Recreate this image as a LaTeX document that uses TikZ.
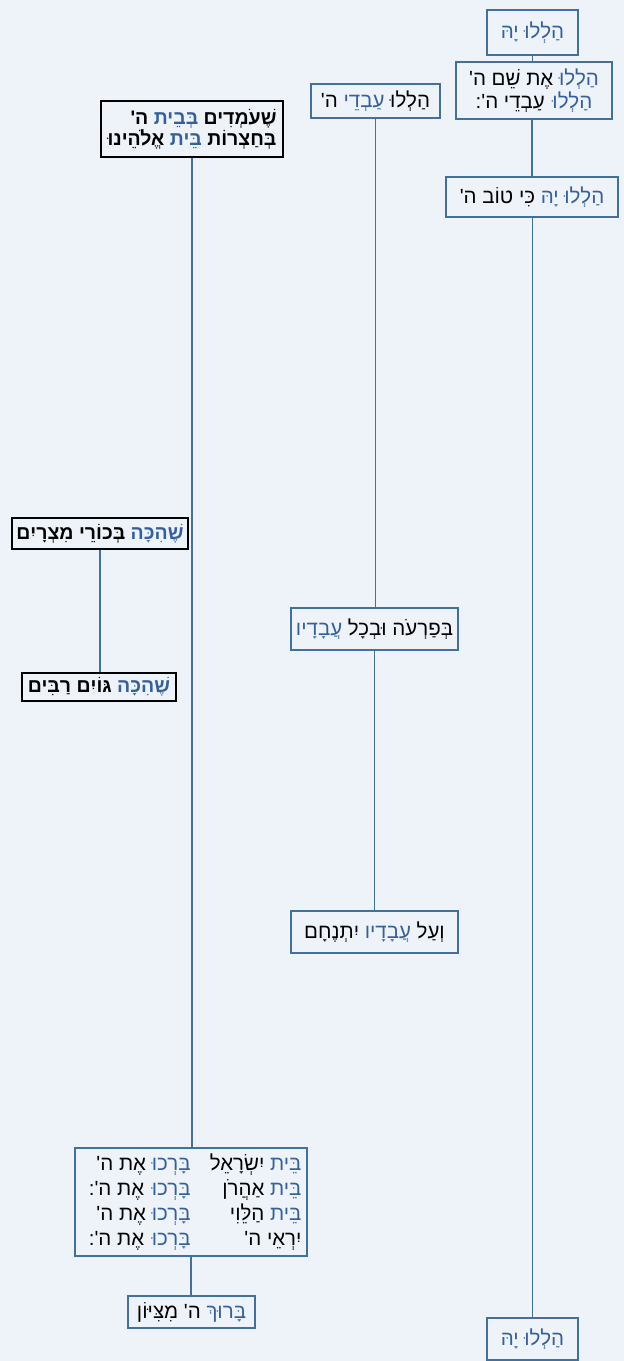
\documentclass[tikz,border=0pt]{standalone}
\usepackage{fontspec}
\newfontfamily\hebfont[Script=Hebrew,Ligatures=ResetAll]{Liberation Sans}
\TeXXeTstate=1
\definecolor{bgblue}{HTML}{EEF2F9}
\definecolor{boxblue}{HTML}{41719C}
\definecolor{txtblue}{HTML}{34609E}
\newcommand{\hb}[1]{\beginR#1\endR}
\newcommand{\bl}[1]{\textcolor{txtblue}{\beginR#1\endR}}
\begin{document}
\begin{tikzpicture}[
        x=1pt, y=-1pt,
        verse/.style={rectangle, draw=boxblue, line width=1.6pt, fill=bgblue, inner sep=3pt, align=center, font=\hebfont\fontsize{20.5}{23}\selectfont},
        boldverse/.style={verse, draw=black, font=\hebfont\bfseries\fontsize{19.5}{21}\selectfont},
        conn/.style={draw=boxblue, line width=1.5pt}
    ]

    % Background
    \fill[bgblue] (0,0) rectangle (624,1361);
    \useasboundingbox (0,0) rectangle (624,1361);

    % Right column
    \node[verse, minimum width=91, minimum height=45] (hal-top) at (532.5,32.5) {\bl{הַלְלוּ יָהּ}};
    \node[verse, minimum width=156, minimum height=57] (hal-shem) at (534,90.5) {\hb{אֶת שֵׁם ה'} \bl{הַלְלוּ}\\ \hb{עַבְדֵי ה':} \bl{הַלְלוּ}};
    \node[verse, minimum width=172, minimum height=40] (ki-tov) at (532,197) {\hb{כִּי טוֹב ה'} \bl{הַלְלוּ יָהּ}};
    \node[verse, minimum width=91, minimum height=42] (hal-end) at (532.5,1339) {\bl{הַלְלוּ יָהּ}};

    % Middle column
    \node[verse, minimum width=129, minimum height=34] (avdei) at (375.5,101) {\hb{ה'} \bl{עַבְדֵי} \hb{הַלְלוּ}};
    \node[verse, minimum width=167, minimum height=42] (paroh) at (374.5,629) {\bl{עֲבָדָיו} \hb{בְּפַרְעֹה וּבְכָל}};
    \node[verse, minimum width=167, minimum height=42] (yitnecham) at (374.5,932) {\hb{יִתְנֶחָם} \bl{עֲבָדָיו} \hb{וְעַל}};

    % Left column
    \node[boldverse, align=right, minimum width=182, minimum height=56] (omdim) at (192,129) {\hb{ה'} \bl{בְּבֵית} \hb{שֶׁעֹמְדִים}\\ \hb{אֱלֹהֵינוּ} \bl{בֵּית} \hb{בְּחַצְרוֹת}};
    \node[boldverse, minimum width=176, minimum height=31] (bechorei) at (100,533.5) {\hb{בְּכוֹרֵי מִצְרָיִם} \bl{שֶׁהִכָּה}};
    \node[boldverse, minimum width=154, minimum height=28] (goyim) at (99,687) {\hb{גּוֹיִם רַבִּים} \bl{שֶׁהִכָּה}};
    \node[verse, font=\hebfont\fontsize{20.5}{25}\selectfont, minimum width=232, minimum height=108] (barchu) at (191,1202) {%
        \makebox[110pt][r]{\hb{אֶת ה'} \bl{בָּרְכוּ}}\makebox[111pt][r]{\hb{יִשְׂרָאֵל} \bl{בֵּית}}\\
        \makebox[110pt][r]{\hb{אֶת ה':} \bl{בָּרְכוּ}}\makebox[111pt][r]{\hb{אַהֲרֹן} \bl{בֵּית}}\\
        \makebox[110pt][r]{\hb{אֶת ה'} \bl{בָּרְכוּ}}\makebox[111pt][r]{\hb{הַלֵּוִי} \bl{בֵּית}}\\
        \makebox[110pt][r]{\hb{אֶת ה':} \bl{בָּרְכוּ}}\makebox[111pt][r]{\hb{יִרְאֵי ה'}}};
    \node[verse, minimum width=127, minimum height=32] (baruch) at (191.5,1312) {\hb{ה' מִצִּיּוֹן} \bl{בָּרוּךְ}};

    % Connectors
    \draw[conn] (hal-top.south) -- (hal-top.south |- hal-shem.north);
    \draw[conn] (hal-shem.south -| ki-tov.north) -- (ki-tov.north);
    \draw[conn] (ki-tov.south) -- (ki-tov.south -| hal-end.north) -- (hal-end.north);
    \draw[conn] (avdei.south) -- (avdei.south |- paroh.north);
    \draw[conn] (paroh.south) -- (yitnecham.north);
    \draw[conn] (omdim.south) -- (omdim.south |- barchu.north);
    \draw[conn] (bechorei.south) -- (bechorei.south |- goyim.north);
    \draw[conn] (barchu.south) -- (barchu.south |- baruch.north);

    \end{tikzpicture}
\end{document}
